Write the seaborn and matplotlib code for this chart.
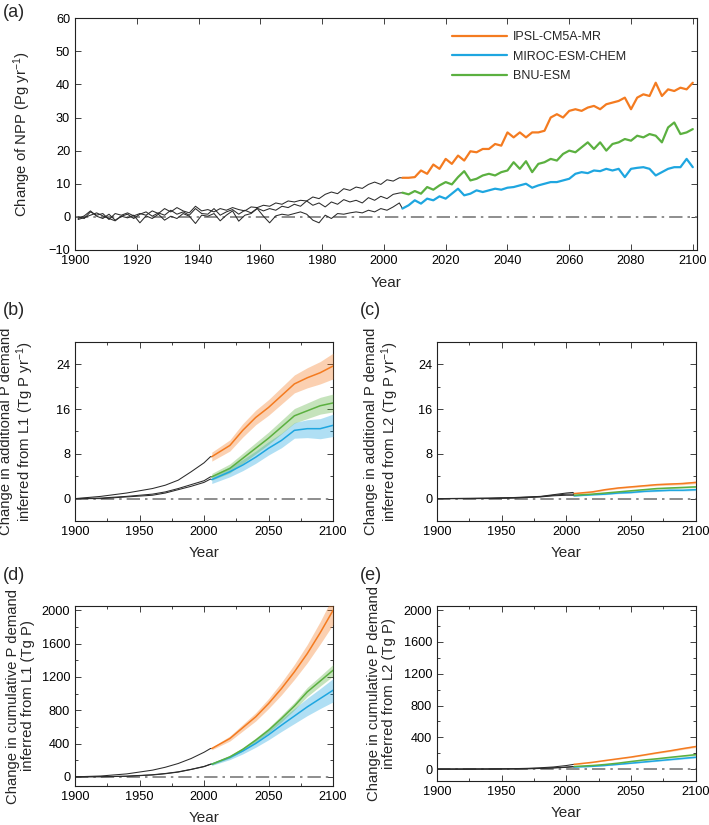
import numpy as np
import matplotlib
matplotlib.use("Agg")
import matplotlib.pyplot as plt
import seaborn as sns
from matplotlib.ticker import MultipleLocator

sns.set_style("ticks")
plt.rcParams['font.family'] = ['Liberation Sans', 'DejaVu Sans']
plt.rcParams['mathtext.default'] = 'regular'

# --- colori dei modelli
models = ["IPSL-CM5A-MR", "MIROC-ESM-CHEM", "BNU-ESM"]
colors = ["#f47b20", "#1ea6e0", "#5bb040"]

# --- (a) NPP, anni a passo 2
yrs_a_hist = list(range(1901, 2006, 2))
yrs_a_proj = list(range(2006, 2101, 2))

npp_hist_ipsl = [0, -0.5, 1.5, 0.5, 1, -0.8, 1, 0.5, 1.2, 0.3,
                 1, 0.5, 1.8, 1, 2.5, 1.5, 2.8, 1.8, 1.2, 3.2,
                 1.8, 2.2, 1.5, 2.5, 2, 2.8, 2.2, 1.8, 3.0, 2.8,
                 3.5, 3.2, 4.2, 3.8, 4.8, 4.5, 5.0, 4.8, 6.0, 5.5,
                 6.8, 7.5, 7.0, 8.5, 8.0, 9.0, 8.6, 9.8, 10.5, 9.8,
                 11.2, 10.8, 11.8]
npp_hist_miroc = [-0.8, -0.2, 0.5, 1.2, 0.3, -0.5, -1.2, 0.2, -0.3, 0.5,
                  -1.8, 0.3, -0.5, 0.8, -1.0, 0.2, -0.5, 1.0, 0.2, -2.0,
                  0.5, 0.2, 1.0, -1.2, 0.5, 1.8, -1.3, 0.5, 1.0, 2.5,
                  0.2, -1.8, 0.3, 0.8, 0.5, 1.0, 1.5, 0.8, -1.0, -1.8,
                  0.5, -0.5, 1.0, 0.8, 1.2, 1.5, 1.2, 2.0, 1.5, 2.5,
                  2.0, 3.0, 4.2]
npp_hist_bnu = [-0.5, 0.3, 1.8, 0.2, -0.5, 0.8, -1, 0.2, 0.8, -0.5,
                0.8, 1.5, 0.2, 1.2, 0.5, 2.0, 0.8, 1.5, 0.5, 2.5,
                1.0, 0.8, 2.5, 0.5, 1.5, 2.2, 0.8, 2.0, 1.2, 2.6,
                1.8, 2.5, 2.0, 3.2, 2.8, 3.8, 3.2, 4.8, 3.5, 4.2,
                3.0, 4.5, 3.8, 5.2, 4.5, 5.0, 4.2, 5.8, 5.0, 6.2,
                5.5, 6.8, 7.2]

npp_proj_ipsl = [11.8, 11.8, 12.0, 14.0, 13.0, 15.8, 14.5, 17.5, 16.0, 18.5,
                 17.0, 19.8, 19.5, 20.5, 20.5, 22.0, 21.5, 25.5, 24.0, 25.5,
                 24.0, 25.5, 25.5, 26.0, 30.0, 31.0, 30.0, 32.0, 32.5, 32.0,
                 33.0, 33.5, 32.5, 34.0, 34.5, 35.0, 36.0, 32.5, 36.0, 37.0,
                 36.5, 40.5, 36.5, 38.5, 38.0, 39.0, 38.5, 40.5]
npp_proj_miroc = [2.5, 3.5, 5.0, 4.0, 5.5, 5.0, 6.2, 5.5, 7.0, 8.5,
                  6.5, 7.0, 8.0, 7.5, 8.0, 8.5, 8.2, 8.8, 9.0, 9.5,
                  10.0, 8.8, 9.5, 10.0, 10.5, 10.5, 11.0, 11.5, 13.0, 13.5,
                  13.2, 14.0, 13.8, 14.5, 14.0, 14.5, 12.0, 14.5, 14.8, 15.0,
                  14.5, 12.5, 13.5, 14.5, 15.0, 15.0, 17.5, 15.0]
npp_proj_bnu = [7.3, 6.8, 7.8, 7.0, 9.0, 8.2, 9.5, 10.5, 9.8, 12.0,
                13.8, 11.0, 11.5, 12.5, 13.0, 12.5, 13.5, 14.0, 16.5, 14.5,
                16.8, 13.5, 16.0, 16.5, 17.5, 17.0, 19.0, 20.0, 19.5, 21.0,
                22.5, 20.5, 22.5, 20.0, 22.0, 22.5, 23.5, 23.0, 24.5, 24.0,
                25.0, 24.5, 22.5, 27.0, 28.5, 25.0, 25.5, 26.5]

# --- (b)-(e) fabbisogno di P
yrs_hist = [1900, 1920, 1940, 1960, 1970, 1980, 1990, 2000, 2005]
yrs_proj = [2006, 2020, 2030, 2040, 2050, 2060, 2070, 2080, 2090, 2100]

# (b) L1 annuale
l1_hist_ipsl = [0, 0.4, 1.0, 1.8, 2.4, 3.3, 4.8, 6.4, 7.5]
l1_hist_miroc = [0, 0.0, 0.3, 0.6, 1.0, 1.6, 2.2, 2.9, 3.5]
l1_hist_bnu = [0, 0.1, 0.4, 0.8, 1.2, 1.8, 2.5, 3.2, 3.9]
l1_proj_ipsl = [7.5, 9.5, 12.2, 14.5, 16.3, 18.4, 20.5, 21.6, 22.5, 23.7]
l1_proj_miroc = [3.4, 4.8, 6.0, 7.4, 9.0, 10.4, 12.2, 12.5, 12.5, 13.1]
l1_proj_bnu = [3.9, 5.4, 7.2, 9.0, 10.8, 12.8, 14.8, 15.7, 16.6, 17.1]
l1_band_ipsl = [0.8, 1.0, 1.2, 1.3, 1.4, 1.5, 1.6, 1.8, 2.0, 2.3]
l1_band_miroc = [0.7, 0.9, 1.0, 1.1, 1.2, 1.3, 1.4, 1.6, 1.8, 2.0]
l1_band_bnu = [0.6, 0.8, 0.9, 1.0, 1.1, 1.2, 1.3, 1.4, 1.5, 1.6]

# (c) L2 annuale
l2_hist_ipsl = [0, 0.05, 0.1, 0.2, 0.3, 0.4, 0.7, 1.0, 1.1]
l2_hist_miroc = [0, 0.0, 0.0, 0.1, 0.2, 0.3, 0.5, 0.6, 0.6]
l2_hist_bnu = [0, 0.0, 0.05, 0.15, 0.25, 0.35, 0.6, 0.8, 0.8]
l2_proj_ipsl = [0.9, 1.2, 1.6, 1.9, 2.1, 2.3, 2.5, 2.6, 2.7, 2.9]
l2_proj_miroc = [0.5, 0.7, 0.8, 1.0, 1.1, 1.3, 1.4, 1.5, 1.5, 1.6]
l2_proj_bnu = [0.6, 0.8, 1.0, 1.2, 1.4, 1.6, 1.8, 1.9, 2.0, 2.1]
l2_band_ipsl = [0.1, 0.12, 0.14, 0.15, 0.16, 0.17, 0.18, 0.2, 0.2, 0.22]
l2_band_miroc = [0.08, 0.1, 0.1, 0.12, 0.12, 0.13, 0.14, 0.15, 0.15, 0.16]
l2_band_bnu = [0.08, 0.1, 0.1, 0.12, 0.12, 0.13, 0.14, 0.15, 0.15, 0.16]

# (d) L1 cumulativo
c1_hist_ipsl = [0, 10, 35, 80, 115, 160, 220, 295, 340]
c1_hist_miroc = [0, 1, 6, 22, 37, 57, 88, 122, 150]
c1_hist_bnu = [0, 2, 8, 25, 40, 60, 90, 125, 152]
c1_proj_ipsl = [340, 460, 590, 720, 880, 1060, 1260, 1480, 1730, 2000]
c1_proj_miroc = [152, 232, 310, 400, 505, 620, 730, 840, 940, 1040]
c1_proj_bnu = [152, 240, 330, 440, 560, 700, 850, 1020, 1150, 1280]
c1_band_ipsl = [15, 30, 40, 50, 60, 75, 90, 110, 135, 170]
c1_band_miroc = [15, 25, 35, 45, 60, 75, 90, 105, 120, 140]
c1_band_bnu = [10, 15, 20, 25, 30, 40, 45, 55, 60, 70]

# (e) L2 cumulativo
c2_hist_ipsl = [0, 0.5, 2, 6, 10, 17, 27, 45, 58]
c2_hist_miroc = [0, 0, 0.5, 2, 4, 8, 14, 22, 28]
c2_hist_bnu = [0, 0, 1, 3, 6, 10, 17, 26, 32]
c2_proj_ipsl = [60, 85, 108, 130, 152, 178, 205, 230, 258, 284]
c2_proj_miroc = [25, 35, 46, 60, 75, 90, 105, 120, 135, 150]
c2_proj_bnu = [33, 45, 58, 75, 96, 115, 130, 148, 165, 182]
c2_band_ipsl = [3, 4, 5, 6, 7, 8, 9, 10, 11, 12]
c2_band_miroc = [2, 3, 4, 5, 6, 7, 8, 9, 10, 11]
c2_band_bnu = [2, 3, 4, 5, 6, 7, 8, 9, 10, 11]


def style_axes(ax):
    for s in ax.spines.values():
        s.set_visible(True)
        s.set_color("#222222")
        s.set_linewidth(0.8)
    ax.tick_params(which="both", direction="in", top=True, right=True,
                   labelsize=9.2, width=0.6, colors="#222222", labelcolor="black")
    ax.tick_params(which="major", length=4)
    ax.tick_params(which="minor", length=2.5)


def draw_panel(ax, hist, proj, bands=None, lw=1.1, hist_x=yrs_hist, proj_x=yrs_proj):
    for i in range(3):
        # la linea storica si aggancia al primo punto della proiezione
        sns.lineplot(x=list(hist_x) + [proj_x[0]], y=list(hist[i]) + [proj[i][0]],
                     ax=ax, color="#2b2b2b", lw=0.75, zorder=2)
    if bands is not None:
        for i in range(3):
            lo = np.array(proj[i]) - np.array(bands[i])
            hi = np.array(proj[i]) + np.array(bands[i])
            ax.fill_between(proj_x, lo, hi, color=colors[i], alpha=0.35, lw=0, zorder=3)
    for i in range(3):
        sns.lineplot(x=proj_x, y=proj[i], ax=ax, color=colors[i], lw=lw,
                     label=models[i], zorder=4)
    ax.axhline(0, color="#7a7a7a", lw=1.2, ls=(0, (8, 3, 1.5, 3)), zorder=1)


fig = plt.figure(figsize=(7.09, 8.25), dpi=100)

# (a)
ax_a = fig.add_axes([0.1058, 0.697, 0.877, 0.281])
draw_panel(ax_a, [npp_hist_ipsl, npp_hist_miroc, npp_hist_bnu],
           [npp_proj_ipsl, npp_proj_miroc, npp_proj_bnu], lw=1.6,
           hist_x=yrs_a_hist, proj_x=yrs_a_proj)
ax_a.set_xlim(1900, 2101.3)
ax_a.set_ylim(-10, 60)
ax_a.xaxis.set_major_locator(MultipleLocator(20))
ax_a.yaxis.set_major_locator(MultipleLocator(10))
style_axes(ax_a)
ax_a.set_ylabel("Change of NPP (Pg yr$^{-1}$)", fontsize=10.7, va="center")
ax_a.yaxis.set_label_coords(-0.085, 0.5)
ax_a.set_xlabel("Year", fontsize=11, va="center")
ax_a.xaxis.set_label_coords(0.5, -0.142)
h, l = ax_a.get_legend_handles_labels()
ax_a.legend(h, l, loc="upper left", bbox_to_anchor=(0.606, 0.945), frameon=False,
            fontsize=9, handlelength=4.4, handletextpad=0.5, labelspacing=0.62,
            borderpad=0, borderaxespad=0)

# (b)-(e)
panels = [
    ([0.1058, 0.3685, 0.364, 0.217], [l1_hist_ipsl, l1_hist_miroc, l1_hist_bnu],
     [l1_proj_ipsl, l1_proj_miroc, l1_proj_bnu], [l1_band_ipsl, l1_band_miroc, l1_band_bnu],
     "Change in additional P demand\ninferred from L1 (Tg P yr$^{-1}$)", (-4, 28), -0.222, "(b)"),
    ([0.6164, 0.3685, 0.365, 0.217], [l2_hist_ipsl, l2_hist_miroc, l2_hist_bnu],
     [l2_proj_ipsl, l2_proj_miroc, l2_proj_bnu], [l2_band_ipsl, l2_band_miroc, l2_band_bnu],
     "Change in additional P demand\ninferred from L2 (Tg P yr$^{-1}$)", (-4, 28), -0.21, "(c)"),
    ([0.1058, 0.0473, 0.364, 0.218], [c1_hist_ipsl, c1_hist_miroc, c1_hist_bnu],
     [c1_proj_ipsl, c1_proj_miroc, c1_proj_bnu], [c1_band_ipsl, c1_band_miroc, c1_band_bnu],
     "Change in cumulative P demand\ninferred from L1 (Tg P)", (-110, 2050), -0.21, "(d)"),
    ([0.6164, 0.0533, 0.365, 0.212], [c2_hist_ipsl, c2_hist_miroc, c2_hist_bnu],
     [c2_proj_ipsl, c2_proj_miroc, c2_proj_bnu], [c2_band_ipsl, c2_band_miroc, c2_band_bnu],
     "Change in cumulative P demand\ninferred from L2 (Tg P)", (-150, 2050), -0.215, "(e)"),
]

for pos, hist, proj, bands, ylab, ylim, ycoord, tag in panels:
    ax = fig.add_axes(pos)
    draw_panel(ax, hist, proj, bands)
    ax.get_legend().remove()
    ax.set_xlim(1900, 2100)
    ax.set_ylim(*ylim)
    ax.xaxis.set_major_locator(MultipleLocator(50))
    ax.xaxis.set_minor_locator(MultipleLocator(25))
    if ylim[1] < 100:
        ax.yaxis.set_major_locator(MultipleLocator(8))
        ax.yaxis.set_minor_locator(MultipleLocator(4))
    else:
        ax.yaxis.set_major_locator(MultipleLocator(400))
        ax.yaxis.set_minor_locator(MultipleLocator(200))
    style_axes(ax)
    ax.set_ylabel(ylab, fontsize=10.7, va="center", linespacing=1.1)
    ax.yaxis.set_label_coords(ycoord, 0.5)
    ax.set_xlabel("Year", fontsize=11, va="center")
    ax.xaxis.set_label_coords(0.5, -0.18)

# etichette dei pannelli
fig.text(0.004, 0.985, "(a)", fontsize=13, va="center", ha="left")
fig.text(0.004, 0.624, "(b)", fontsize=13, va="center", ha="left")
fig.text(0.508, 0.624, "(c)", fontsize=13, va="center", ha="left")
fig.text(0.004, 0.303, "(d)", fontsize=13, va="center", ha="left")
fig.text(0.508, 0.303, "(e)", fontsize=13, va="center", ha="left")

fig.savefig("out.png", dpi=100)
